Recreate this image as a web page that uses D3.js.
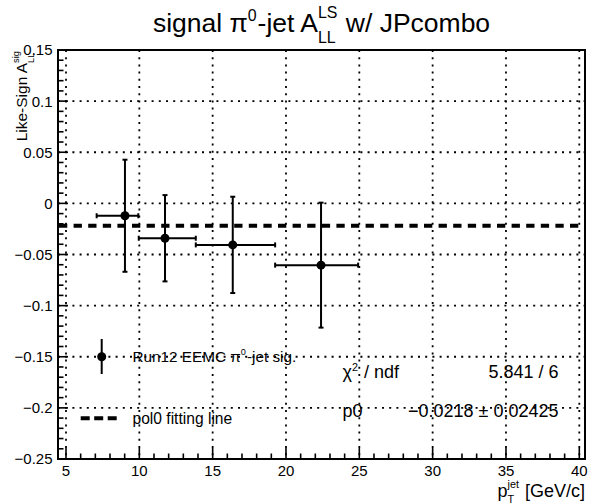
<!DOCTYPE html>
<html>
<head>
<meta charset="utf-8">
<script src="https://cdn.jsdelivr.net/npm/d3@7"></script>
<style>
  body { margin: 0; background: #fff; }
  svg text { font-family: "Liberation Sans", Arial, Helvetica, sans-serif; fill: #000; white-space: pre; }
</style>
</head>
<body>
<div class="d3-elem"><svg width="597" height="504"></svg></div>
<script>
// measured signal points (pT in GeV/c, like-sign A_LL)
const ptMean = [9.02, 11.75, 16.37, 22.39];
const ptLow = [7.09, 9.96, 13.85, 19.26];
const ptHigh = [9.93, 13.85, 19.26, 24.92];
const asym = [-0.0121, -0.0341, -0.0406, -0.0604];
const asymErr = [0.0548, 0.0422, 0.0471, 0.0611];

// pol0 fit result
const fitP0 = -0.0218;
const fitP0Err = 0.02425;
const chi2 = 5.841;
const ndf = 6;

const xTicks = [5, 10, 15, 20, 25, 30, 35, 40];
const yTicks = [-0.25, -0.2, -0.15, -0.1, -0.05, 0, 0.05, 0.1, 0.15];

const frame = { left: 58, right: 585, top: 50, bottom: 459 };

const svg = d3.select("svg");

const x = d3.scaleLinear().domain([5, 40]).range([66, 579.3]);
const y = d3.scaleLinear().domain([-0.25, 0.15]).range([frame.bottom, frame.top]);

// draws ROOT-like text with sub/superscripts, returns the group
function rich(parent, parts, size, anchor) {
  const g = parent.append("g");
  let cx = 0;
  parts.forEach(p => {
    if (p.t != null) {
      const t = g.append("text").attr("x", cx).attr("y", 0)
        .style("font-size", size + "px").text(p.t);
      cx += t.node().getComputedTextLength();
    } else {
      let w = 0;
      const s = size * 0.6;
      if (p.sup != null) {
        const t = g.append("text").attr("x", cx).attr("y", -size * (p.sub != null ? 0.52 : 0.4))
          .style("font-size", s + "px").text(p.sup);
        w = Math.max(w, t.node().getComputedTextLength());
      }
      if (p.sub != null) {
        const t = g.append("text").attr("x", cx).attr("y", size * (p.subOff || 0.42))
          .style("font-size", s + "px").text(p.sub);
        w = Math.max(w, t.node().getComputedTextLength());
      }
      cx += w + 1;
    }
  });
  let off = 0;
  if (anchor === "middle") off = -cx / 2;
  if (anchor === "end") off = -cx;
  g.selectAll("text").attr("x", function() { return +d3.select(this).attr("x") + off; });
  return g;
}

// grid (dotted)
const grid = svg.append("g").attr("stroke", "#000").attr("stroke-width", 1.8)
  .attr("stroke-dasharray", "2,5.2");
grid.selectAll("line.gx").data(xTicks).enter().append("line")
  .attr("x1", d => x(d)).attr("x2", d => x(d))
  .attr("y1", frame.top).attr("y2", frame.bottom);
grid.selectAll("line.gy").data(yTicks).enter().append("line")
  .attr("y1", d => y(d)).attr("y2", d => y(d))
  .attr("x1", frame.left).attr("x2", frame.right);

// ticks, drawn inside the frame
const minorX = d3.range(5, 41).filter(v => v % 5 !== 0);
const minorY = d3.range(-25, 16).filter(v => v % 5 !== 0).map(v => v / 100);
const ticks = svg.append("g").attr("stroke", "#000").attr("stroke-width", 1.6);
ticks.selectAll("line.mx").data(xTicks).enter().append("line")
  .attr("x1", d => x(d)).attr("x2", d => x(d))
  .attr("y1", frame.bottom).attr("y2", frame.bottom - 11);
ticks.selectAll("line.nx").data(minorX).enter().append("line")
  .attr("x1", d => x(d)).attr("x2", d => x(d))
  .attr("y1", frame.bottom).attr("y2", frame.bottom - 5.5);
ticks.selectAll("line.my").data(yTicks).enter().append("line")
  .attr("y1", d => y(d)).attr("y2", d => y(d))
  .attr("x1", frame.left).attr("x2", frame.left + 10);
ticks.selectAll("line.ny").data(minorY).enter().append("line")
  .attr("y1", d => y(d)).attr("y2", d => y(d))
  .attr("x1", frame.left).attr("x2", frame.left + 5.5);

// frame
svg.append("rect").attr("x", frame.left).attr("y", frame.top)
  .attr("width", frame.right - frame.left).attr("height", frame.bottom - frame.top)
  .attr("fill", "none").attr("stroke", "#000").attr("stroke-width", 2);

// tick labels
const fmt = d3.format("~g");
svg.append("g").selectAll("text").data(xTicks).enter().append("text")
  .attr("x", d => x(d)).attr("y", 476).attr("text-anchor", "middle")
  .style("font-size", "15px").text(d => fmt(d));
svg.append("g").selectAll("text").data(yTicks).enter().append("text")
  .attr("x", 52.5).attr("y", d => y(d)).attr("dy", "0.36em").attr("text-anchor", "end")
  .style("font-size", "15px").text(d => fmt(d));

// fit line
svg.append("line").attr("x1", frame.left + 1).attr("x2", frame.right - 1)
  .attr("y1", y(fitP0)).attr("y2", y(fitP0))
  .attr("stroke", "#000").attr("stroke-width", 4).attr("stroke-dasharray", "8.3,6.3");

// error bars and markers
const idx = d3.range(asym.length);
const pts = svg.append("g").attr("stroke", "#000").attr("stroke-width", 2);
pts.selectAll("line.ex").data(idx).enter().append("line")
  .attr("x1", i => x(ptLow[i])).attr("x2", i => x(ptHigh[i]))
  .attr("y1", i => y(asym[i])).attr("y2", i => y(asym[i]));
pts.selectAll("line.ey").data(idx).enter().append("line")
  .attr("x1", i => x(ptMean[i])).attr("x2", i => x(ptMean[i]))
  .attr("y1", i => y(asym[i] - asymErr[i])).attr("y2", i => y(asym[i] + asymErr[i]));
// end caps
const caps = [];
idx.forEach(i => {
  caps.push({ cx: x(ptLow[i]), cy: y(asym[i]), v: true });
  caps.push({ cx: x(ptHigh[i]), cy: y(asym[i]), v: true });
  caps.push({ cx: x(ptMean[i]), cy: y(asym[i] - asymErr[i]), v: false });
  caps.push({ cx: x(ptMean[i]), cy: y(asym[i] + asymErr[i]), v: false });
});
pts.selectAll("line.cap").data(caps).enter().append("line")
  .attr("x1", d => d.v ? d.cx : d.cx - 2.5).attr("x2", d => d.v ? d.cx : d.cx + 2.5)
  .attr("y1", d => d.v ? d.cy - 2.5 : d.cy).attr("y2", d => d.v ? d.cy + 2.5 : d.cy);
svg.append("g").selectAll("circle").data(idx).enter().append("circle")
  .attr("cx", i => x(ptMean[i])).attr("cy", i => y(asym[i])).attr("r", 4.5).attr("fill", "#000");

// legend
svg.append("line").attr("x1", 101.7).attr("x2", 101.7).attr("y1", 339).attr("y2", 374)
  .attr("stroke", "#000").attr("stroke-width", 2);
svg.append("circle").attr("cx", 101.7).attr("cy", 356.7).attr("r", 4.5).attr("fill", "#000");
rich(svg.append("g").attr("transform", "translate(132.5,361.5)"),
  [{ t: "Run12 EEMC \u03c0" }, { sup: "0" }, { t: "-jet sig." }], 15.3, "start");
svg.append("line").attr("x1", 80.7).attr("x2", 116.7).attr("y1", 418.3).attr("y2", 418.3)
  .attr("stroke", "#000").attr("stroke-width", 4).attr("stroke-dasharray", "9,4.5");
svg.append("text").attr("x", 132.5).attr("y", 423.5).style("font-size", "15.6px").text("pol0 fitting line");

// fit stats
rich(svg.append("g").attr("transform", "translate(342.5,378)"),
  [{ t: "\u03c7" }, { sup: "2" }, { t: " / ndf" }], 18, "start");
svg.append("text").attr("x", 558.5).attr("y", 378).attr("text-anchor", "end")
  .style("font-size", "18px").text(d3.format(".3f")(chi2) + " / " + ndf);
svg.append("text").attr("x", 342.5).attr("y", 416.5)
  .style("font-size", "18px").text("p0");
svg.append("text").attr("x", 558.5).attr("y", 416.5).attr("text-anchor", "end")
  .style("font-size", "18px").text("\u2212" + Math.abs(fitP0) + " \u00b1 " + fitP0Err);

// title
rich(svg.append("g").attr("transform", "translate(321.5,31.5)"),
  [{ t: "signal \u03c0" }, { sup: "0" }, { t: "-jet A" }, { sub: "LL", sup: "LS" }, { t: " w/ JPcombo" }],
  26.5, "middle");

// axis titles
rich(svg.append("g").attr("transform", "translate(585,497)"),
  [{ t: "p" }, { sub: "T", sup: "jet", subOff: 0.35 }, { t: " [GeV/c]" }], 18, "end");
rich(svg.append("g").attr("transform", "translate(27,50) rotate(-90)"),
  [{ t: "Like-Sign A" }, { sub: "LL", sup: "sig" }], 15.5, "end");
</script>
</body>
</html>
